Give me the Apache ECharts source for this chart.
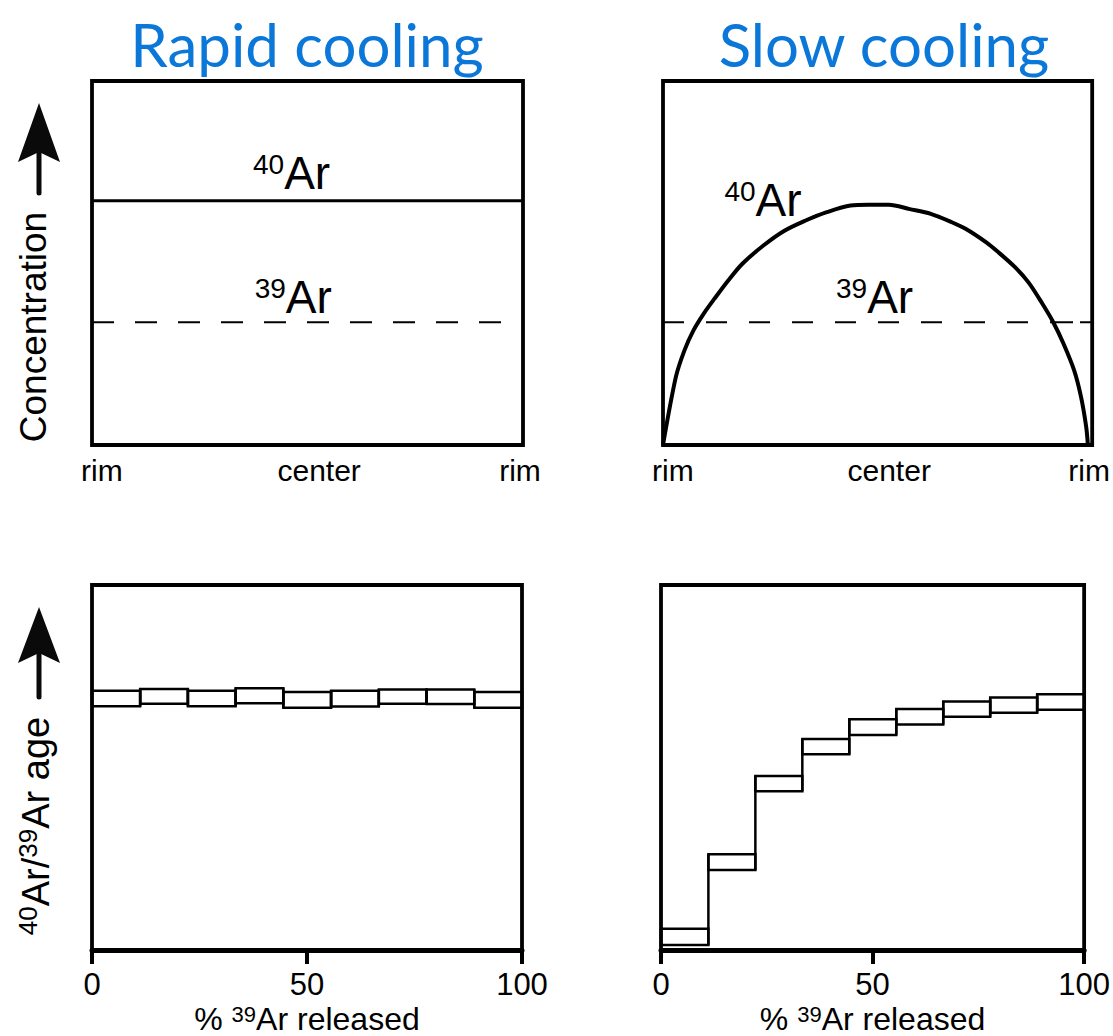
<!DOCTYPE html>
<html><head><meta charset="utf-8">
<script src="https://cdn.jsdelivr.net/npm/echarts@6/dist/echarts.min.js"></script>
<style>html,body{margin:0;padding:0;background:#fff}#c{width:1113px;height:1036px}</style>
</head><body><div id="c"></div>
<script>
// ---------- data ----------
const panelTitles = ['Rapid cooling', 'Slow cooling'];
const profileTickLabels = ['rim', 'center', 'rim'];
const profileTickValues = [2.3, 52.7, 99.3];
const releaseTickValues = [0, 50, 100];

// concentration profiles (x: % across grain rim->rim, y: relative concentration)
const rapidAr40 = [[0, 67.1], [100, 67.1]];
const rapidAr39 = [[0, 33.7], [100, 33.7]];
const slowAr40 = [[0, 0], [3.0, 18.7], [5.0, 26.0], [7.1, 31.5], [9.5, 36.1], [12.0, 40.2], [15.2, 45.2],
  [18.5, 49.8], [23.4, 54.8], [28.2, 58.8], [33.1, 61.6], [38.0, 63.9], [43.7, 65.8], [47.8, 66.0],
  [52.6, 66.0], [57.5, 64.8], [62.4, 63.5], [67.3, 61.2], [70.5, 59.4], [75.4, 55.6], [77.9, 53.2],
  [81.9, 49.0], [85.2, 44.6], [88.4, 38.8], [90.9, 33.8], [93.3, 27.9], [95.8, 20.5], [97.4, 13.2],
  [98.6, 5.0], [99.0, 0]];
const slowAr39 = [[0, 33.7], [100, 33.7]];

// age spectra (x: cumulative % 39Ar released, y: relative age, low/high of each step)
const stepStart = [0, 11.2, 22.3, 33.4, 44.5, 55.6, 66.7, 77.8, 88.9];
const stepEnd = [11.2, 22.3, 33.4, 44.5, 55.6, 66.7, 77.8, 88.9, 100];
const rapidAgeLow = [66.8, 67.5, 66.8, 67.6, 66.4, 66.7, 67.5, 67.4, 66.4];
const rapidAgeHigh = [71.0, 71.5, 71.0, 71.7, 70.7, 71.0, 71.4, 71.4, 70.7];
const slowAgeLow = [1.4, 21.9, 43.5, 53.6, 58.9, 61.8, 63.9, 65.0, 65.8];
const slowAgeHigh = [5.8, 26.2, 47.7, 57.8, 63.2, 66.0, 68.1, 69.2, 70.1];

// ---------- chart ----------
const FONT = '"Liberation Sans", Arial, sans-serif';
const TITLE_FONT = 'Lato, "Open Sans", sans-serif';
const chart = echarts.init(document.getElementById('c'), null, {renderer: 'svg'});

const isoRich = {
  sup: {fontSize: 28, fontFamily: FONT, color: '#000', verticalAlign: 'top', lineHeight: 26},
  main: {fontSize: 46, fontFamily: FONT, color: '#000', verticalAlign: 'bottom', lineHeight: 46}
};

function stepRenderer(lows, highs) {
  return function (params, api) {
    const i = params.dataIndex;
    const p0 = api.coord([api.value(0), api.value(3)]);
    const p1 = api.coord([api.value(1), api.value(2)]);
    const children = [{
      type: 'rect',
      shape: {x: p0[0], y: p0[1], width: p1[0] - p0[0], height: p1[1] - p0[1]},
      style: {fill: 'none', stroke: '#000', lineWidth: 2.5}
    }];
    if (i > 0) {
      const t = api.coord([api.value(0), Math.max(highs[i], highs[i - 1])]);
      const b = api.coord([api.value(0), Math.min(lows[i], lows[i - 1])]);
      children.push({type: 'line', shape: {x1: t[0], y1: t[1], x2: b[0], y2: b[1]},
        style: {stroke: '#000', lineWidth: 2.5}});
    }
    return {type: 'group', children};
  };
}

function profileXAxis(idx) {
  return {
    gridIndex: idx, type: 'value', min: 0, max: 100,
    axisLine: {show: false}, axisTick: {show: false}, splitLine: {show: false},
    axisLabel: {
      customValues: profileTickValues,
      formatter: function (v) { return profileTickLabels[profileTickValues.indexOf(v)]; },
      fontSize: 30, fontFamily: FONT, color: '#000', margin: 10
    }
  };
}
function releaseXAxis(idx) {
  return {
    gridIndex: idx, type: 'value', min: 0, max: 100, interval: 50,
    axisLine: {show: true, lineStyle: {color: '#000', width: 5}},
    axisTick: {show: true, length: 14, lineStyle: {color: '#000', width: 4}},
    splitLine: {show: false},
    axisLabel: {
      customValues: releaseTickValues,
      fontSize: 31, fontFamily: FONT, color: '#000', margin: 19
    },
    name: '{p|% }{sup|39}{main|Ar released}',
    nameLocation: 'middle', nameGap: 53,
    nameTextStyle: {
      rich: {
        p: {fontSize: 32, fontFamily: FONT, color: '#000', verticalAlign: 'bottom', lineHeight: 32},
        sup: {fontSize: 22, fontFamily: FONT, color: '#000', verticalAlign: 'top', lineHeight: 22},
        main: {fontSize: 32, fontFamily: FONT, color: '#000', verticalAlign: 'bottom', lineHeight: 32}
      }
    }
  };
}
function hiddenY(idx) {
  return {gridIndex: idx, type: 'value', min: 0, max: 100, show: false, splitLine: {show: false}};
}
const gridBase = {show: true, borderColor: '#000', borderWidth: 3.8, containLabel: false};

function isoLabel(xi, yi, pts) {
  return {
    type: 'scatter', xAxisIndex: xi, yAxisIndex: yi, symbolSize: 0, silent: true,
    itemStyle: {opacity: 1},
    data: pts.map(p => ({value: [p[0], p[1]], label: {formatter: '{sup|' + p[2] + '}{main|Ar}'}})),
    label: {show: true, position: 'top', distance: 0, color: '#000', opacity: 1, rich: isoRich}
  };
}

function arrow(cx, tipY, backY, notchY, tailY) {
  return [
    {type: 'polygon', shape: {points: [[cx, tipY], [cx + 21, backY], [cx, notchY], [cx - 21, backY]]},
      style: {fill: '#0a0a0a'}},
    {type: 'line', shape: {x1: cx, y1: notchY - 2, x2: cx, y2: tailY},
      style: {stroke: '#0a0a0a', lineWidth: 5, lineCap: 'round'}}
  ];
}

const option = {
  backgroundColor: '#fff',
  animation: false,
  grid: [
    Object.assign({left: 92, top: 81, width: 431, height: 364}, gridBase),
    Object.assign({left: 663, top: 81, width: 433, height: 364}, gridBase),
    Object.assign({left: 92, top: 585, width: 430, height: 365}, gridBase),
    Object.assign({left: 661, top: 585, width: 431, height: 365}, gridBase)
  ],
  xAxis: [profileXAxis(0), profileXAxis(1), releaseXAxis(2), releaseXAxis(3)],
  yAxis: [hiddenY(0), hiddenY(1), hiddenY(2), hiddenY(3)],
  graphic: [
    {type: 'text', x: 307, y: 44, style: {text: panelTitles[0], fill: '#0b77d8', font: '60px ' + TITLE_FONT,
      align: 'center', verticalAlign: 'middle'}},
    {type: 'text', x: 884, y: 44, style: {text: panelTitles[1], fill: '#0b77d8', font: '60px ' + TITLE_FONT,
      align: 'center', verticalAlign: 'middle'}},
    ...arrow(39, 103, 162, 152, 193),
    {type: 'text', x: 33, y: 327, rotation: Math.PI / 2,
      style: {text: 'Concentration', fill: '#000', font: '37px ' + FONT, align: 'center', verticalAlign: 'middle'}},
    ...arrow(39, 607, 663, 653, 697),
    {type: 'text', x: 35, y: 826, rotation: Math.PI / 2,
      style: {text: '{sup|40}{main|Ar/}{sup|39}{main|Ar age}', align: 'center', verticalAlign: 'middle',
        rich: {
          sup: {fontSize: 26, fontFamily: FONT, fill: '#000', verticalAlign: 'top', lineHeight: 24},
          main: {fontSize: 38, fontFamily: FONT, fill: '#000', verticalAlign: 'bottom', lineHeight: 40}
        }}}
  ],
  series: [
    {type: 'line', xAxisIndex: 0, yAxisIndex: 0, data: rapidAr40, symbol: 'none',
      lineStyle: {color: '#000', width: 3}},
    {type: 'line', xAxisIndex: 0, yAxisIndex: 0, data: rapidAr39, symbol: 'none',
      lineStyle: {color: '#000', width: 2, type: [22, 21]}},
    isoLabel(0, 0, [[46.3, 68.3, '40'], [46.7, 34.3, '39']]),
    {type: 'line', xAxisIndex: 1, yAxisIndex: 1, data: slowAr39, symbol: 'none',
      lineStyle: {color: '#000', width: 2,
        type: [21, 22, 21, 22, 21, 22, 21, 22, 21, 22, 21, 22, 21, 22, 21, 22, 21, 22, 23, 7, 16, 20]}},
    {type: 'line', xAxisIndex: 1, yAxisIndex: 1, data: slowAr40, symbol: 'none', smooth: 0.3,
      lineStyle: {color: '#000', width: 4}},
    isoLabel(1, 1, [[23.3, 60.9, '40'], [49.3, 34.3, '39']]),
    {type: 'custom', xAxisIndex: 2, yAxisIndex: 2, renderItem: stepRenderer(rapidAgeLow, rapidAgeHigh),
      encode: {x: [0, 1], y: [2, 3]},
      data: stepStart.map((s, i) => [s, stepEnd[i], rapidAgeLow[i], rapidAgeHigh[i]])},
    {type: 'custom', xAxisIndex: 3, yAxisIndex: 3, renderItem: stepRenderer(slowAgeLow, slowAgeHigh),
      encode: {x: [0, 1], y: [2, 3]},
      data: stepStart.map((s, i) => [s, stepEnd[i], slowAgeLow[i], slowAgeHigh[i]])}
  ]
};
chart.setOption(option);
</script>
</body></html>
